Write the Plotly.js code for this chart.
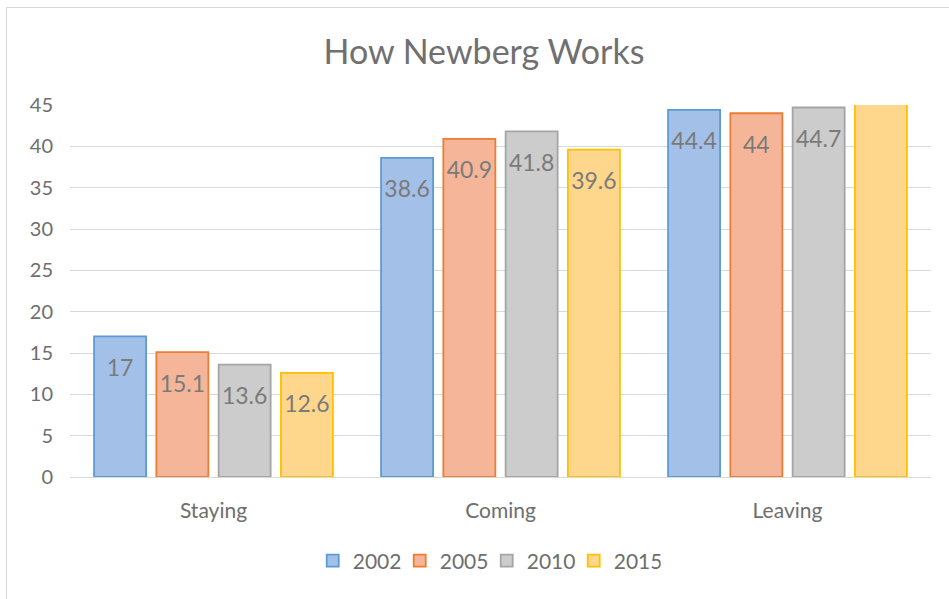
<!DOCTYPE html>
<html>
<head>
<meta charset="utf-8">
<script src="https://cdn.plot.ly/plotly-3.0.1.min.js"></script>
<style>
html,body{margin:0;padding:0;background:#fff;}
#wrap{position:relative;width:949px;height:599px;overflow:hidden;}
#chart{position:absolute;left:0;top:0;width:949px;height:599px;}
#frame{position:absolute;left:6px;top:7px;width:950px;height:600px;border-left:1px solid #d9d9d9;border-top:1px solid #d9d9d9;pointer-events:none;}
</style>
</head>
<body>
<div id="wrap"><div id="chart"></div><div id="frame"></div></div>
<script>
const categories = ["Staying", "Coming", "Leaving"];
const years = ["2002", "2005", "2010", "2015"];
const v2002 = [17, 38.6, 44.4];
const v2005 = [15.1, 40.9, 44];
const v2010 = [13.6, 41.8, 44.7];
const v2015 = [12.6, 39.6, 46];
const labels2015 = ["12.6", "39.6", ""];
const yTicks = [0, 5, 10, 15, 20, 25, 30, 35, 40, 45];

const fills = ["#a3c1e8", "#f5b599", "#cccccc", "#fed78d"];
const lines = ["#5b9bd5", "#ed7d31", "#a5a5a5", "#ffc000"];
const series = [v2002, v2005, v2010, v2015];
const FONT = "Lato, 'Open Sans', sans-serif";

const barTraces = series.map((vals, i) => ({
  type: "bar",
  name: years[i],
  x: categories,
  y: vals,
  offsetgroup: years[i],
  marker: {color: fills[i], line: {color: lines[i], width: 1.8}},
  hoverinfo: "skip"
}));

const labelTraces = series.map((vals, i) => ({
  type: "scatter",
  mode: "markers+text",
  x: categories,
  y: vals,
  offsetgroup: years[i],
  text: i === 3 ? labels2015 : vals.map(String),
  textposition: "bottom center",
  textfont: {family: FONT, size: 23, color: "#7a7a7a"},
  marker: {size: 34, opacity: 0},
  showlegend: false,
  hoverinfo: "skip"
}));

const layout = {
  width: 949, height: 599,
  paper_bgcolor: "#ffffff", plot_bgcolor: "#ffffff",
  margin: {l: 70, r: 18, t: 105, b: 122},
  font: {family: FONT, color: "#6e6e6e"},
  title: {
    text: "How Newberg Works",
    font: {family: FONT, size: 34, color: "#707070"},
    x: 0.51, xanchor: "center", y: 0.913, yanchor: "middle"
  },
  barmode: "group",
  bargap: 0.132,
  bargroupgap: 0.165,
  scattermode: "group",
  scattergap: 0.132,
  xaxis: {
    type: "category",
    showgrid: false,
    showline: true, linecolor: "#d9d9d9", linewidth: 1,
    ticks: "", ticklabelstandoff: 15,
    tickfont: {size: 21, color: "#6e6e6e"},
    zeroline: false
  },
  yaxis: {
    range: [0, 45],
    tickvals: yTicks,
    ticktext: yTicks.map(String),
    showgrid: true, gridcolor: "#d9d9d9", gridwidth: 1,
    zeroline: true, zerolinecolor: "#d9d9d9", zerolinewidth: 1,
    showline: false,
    ticks: "", ticklabelstandoff: 16,
    tickfont: {size: 20, color: "#6e6e6e"}
  },
  legend: {
    orientation: "h",
    x: 0.484, xanchor: "center",
    y: -0.226, yanchor: "middle",
    font: {size: 21, color: "#6e6e6e"},
    itemwidth: 30,
    entrywidth: 42,
    traceorder: "normal"
  },
  showlegend: true
};

Plotly.newPlot("chart", barTraces.concat(labelTraces), layout, {displayModeBar: false, staticPlot: true});
</script>
</body>
</html>
